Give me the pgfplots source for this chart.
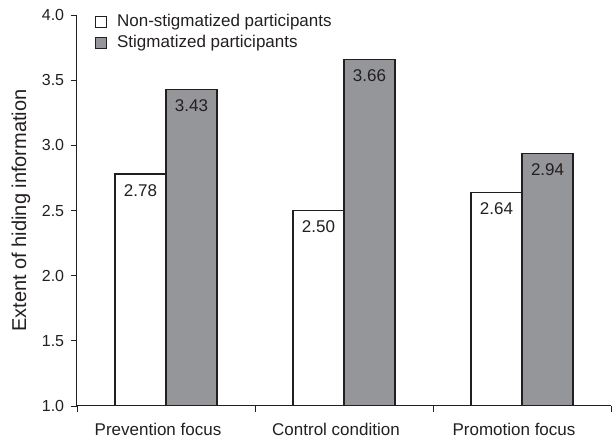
\documentclass[border=0pt]{standalone}
\usepackage{fontspec}
\setmainfont{Liberation Sans}
\usepackage{pgfplots}
\pgfplotsset{compat=1.18}
\definecolor{stigma}{HTML}{959699}
\definecolor{ink}{HTML}{231F20}
\begin{document}
\fontsize{17}{20}\selectfont
\begin{tikzpicture}
  \useasboundingbox (-77pt,-36pt) rectangle (537pt,406pt);
  \begin{axis}[
    scale only axis,
    width=534pt, height=391pt,
    xmin=0.5, xmax=3.5,
    ymin=1, ymax=4,
    axis lines*=left,
    axis line style={ink, line width=1pt},
    every tick/.style={ink, line width=0.8pt},
    tick align=outside,
    major tick length=6pt,
    minor tick length=6pt,
    xtick={1,2,3},
    xticklabels={Prevention focus, Control condition, Promotion focus},
    major x tick style={draw=none},
    minor xtick={0.5,1.5,2.5,3.5},
    ytick={1,1.5,...,4},
    /pgf/number format/assume math mode=true,
    xticklabel style={font=\fontsize{17}{20}\selectfont, text=ink, yshift=-5pt, xshift=-8pt},
    yticklabel style={font=\fontsize{16}{19}\selectfont, text=ink, xshift=-1pt,
      /pgf/number format/fixed, /pgf/number format/fixed zerofill,
      /pgf/number format/precision=1},
    ylabel={Extent of hiding information},
    ylabel style={font=\fontsize{20}{24}\selectfont, text=ink},
    ybar,
    bar width=0.287,
    nodes near coords={\pgfmathprintnumber[fixed, fixed zerofill, precision=2, assume math mode=true]{\pgfplotspointmeta}},
    every node near coord/.append style={anchor=north, yshift=-4pt, text=ink, font=\fontsize{17}{20}\selectfont},
    legend style={draw=none, fill=none, at={(0.034,1.005)}, anchor=north west,
      font=\fontsize{17}{20}\selectfont, text=ink, row sep=4pt, inner sep=0pt,
      nodes={inner sep=1pt},
      /tikz/every odd column/.append style={column sep=9pt}},
    legend cell align=left,
    legend image code/.code={\draw[#1, line width=0.8pt] (0pt,-5.5pt) rectangle (11pt,5.5pt);},
  ]
    \addplot[draw=ink, fill=white, line width=1.2pt, bar shift=-0.1435]
      coordinates {(1,2.78) (2,2.50) (3,2.64)};
    \addlegendentry{Non-stigmatized participants}
    \addplot[draw=ink, fill=stigma, line width=1.2pt, bar shift=0.1435]
      coordinates {(1,3.43) (2,3.66) (3,2.94)};
    \addlegendentry{Stigmatized participants}
  \end{axis}
\end{tikzpicture}
\end{document}
